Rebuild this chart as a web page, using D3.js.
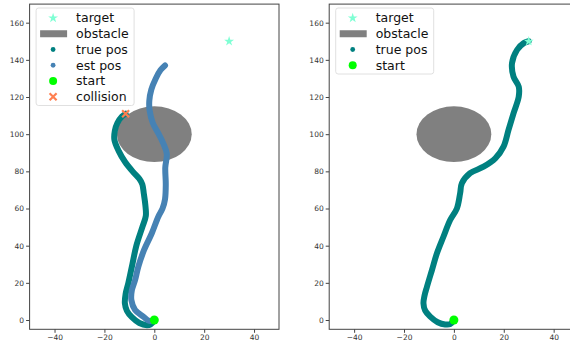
<!DOCTYPE html>
<html lang="en">
<head>
<meta charset="UTF-8">
<title>Trajectories</title>
<script src="https://cdn.jsdelivr.net/npm/d3@7"></script>
<style>
    body { margin: 0; background: #fff; }
    svg { font-family: 'DejaVu Sans', sans-serif; }
    .tick text { fill: #333; }
</style>
</head>
<body>
<div id="chart"></div>
<script>
// ---- data ----
var xTicks = [-40, -20, 0, 20, 40];
var yTicks = [0, 20, 40, 60, 80, 100, 120, 140, 160];
var target = [30, 150];
var startPos = [0, 0];
var obstacleCenter = [0, 100];
var obstacleRadius = 15;
var collision = [-11.5, 111];

// left panel: true and estimated positions
var truePosLeft = [
    [0, 0], [-1.5, -2.4], [-3, -2.8], [-6, -1.6], [-9, 1.5], [-11, 5], [-11.8, 9],
    [-11.5, 14], [-10.4, 20], [-8.8, 30], [-7.2, 40], [-4.8, 50], [-3.4, 56],
    [-3.6, 62], [-4.2, 68], [-4.8, 73], [-6, 76], [-8.4, 79.5], [-11.7, 85],
    [-14.3, 91], [-16, 97], [-15.8, 102], [-14.8, 106], [-13, 109.5], [-11.5, 111]
];
var estPosLeft = [
    [0, 0], [-2, -0.5], [-4.4, 1.8], [-7.7, 5.4], [-9.2, 10.8], [-9, 16],
    [-7.7, 21.5], [-6.4, 28.7], [-4.1, 37.7], [-1, 46.7], [1.6, 55.6], [3.3, 60],
    [4.3, 65], [4.6, 73], [4.4, 82], [5, 89.5], [3.6, 95], [1.8, 100], [-0.6, 106],
    [-1.9, 113], [-2, 118], [-1.2, 124], [0.6, 130], [2.5, 134.5], [4.3, 137]
];
// right panel: true positions
var truePosRight = [
    [0, 0], [-1.5, -2.2], [-3.5, -2.4], [-6.5, -1.2], [-9.5, 1.8], [-11.5, 5], [-12.2, 9],
    [-11.8, 13], [-10.8, 17.9], [-8.8, 26.9], [-6.8, 35.9], [-4.2, 44.8],
    [-1.5, 53.8], [1.2, 60], [2.5, 68.2], [3.2, 73.6], [6.5, 79], [11.9, 82.5],
    [16.6, 87], [19.9, 93.3], [21.9, 102.3], [23.9, 111.2], [26, 120.2],
    [26, 125.6], [23.9, 131], [23.3, 138.2], [25.3, 145.3], [28, 149], [30, 150]
];

var legendLeft = ['target', 'obstacle', 'true pos', 'est pos', 'start', 'collision'];
var legendRight = ['target', 'obstacle', 'true pos', 'start'];

// ---- colours ----
var colors = {
    'target': '#7fffd4',
    'obstacle': '#808080',
    'true pos': '#008080',
    'est pos': '#4682b4',
    'start': '#00ff00',
    'collision': '#ff7f50'
};

var svgwidth = 570;
var svgheight = 344;

var svg = d3.select('#chart')
    .append('svg')
    .attr('width', svgwidth)
    .attr('height', svgheight);

var y_scale = d3.scaleLinear()
    .domain([-5, 170])
    .range([329.3, 4.1]);

function drawPanel(left, series, legendItems, showCollision) {
    var x_scale = d3.scaleLinear()
        .domain([-50, 50])
        .range([left, left + 249.4]);

    var g = svg.append('g');

    // obstacle
    g.append('ellipse')
        .attr('cx', x_scale(obstacleCenter[0]))
        .attr('cy', y_scale(obstacleCenter[1]))
        .attr('rx', x_scale(obstacleRadius) - x_scale(0))
        .attr('ry', y_scale(0) - y_scale(obstacleRadius))
        .attr('fill', colors['obstacle']);

    // trajectories
    var line = d3.line()
        .x(d => x_scale(d[0]))
        .y(d => y_scale(d[1]))
        .curve(d3.curveCatmullRom);

    series.forEach(function(s) {
        g.append('path')
            .datum(s.data)
            .attr('d', line)
            .attr('fill', 'none')
            .attr('stroke', colors[s.name])
            .attr('stroke-width', 6)
            .attr('stroke-linecap', 'round')
            .attr('stroke-linejoin', 'round');
    });

    // start point
    g.append('circle')
        .attr('cx', x_scale(startPos[0]))
        .attr('cy', y_scale(startPos[1]))
        .attr('r', 4.5)
        .attr('fill', colors['start']);

    // target star
    g.append('path')
        .attr('d', d3.symbol().type(d3.symbolStar).size(30))
        .attr('transform', 'translate(' + x_scale(target[0]) + ',' + y_scale(target[1]) + ')')
        .attr('fill', colors['target']);

    if (showCollision) {
        var cx = x_scale(collision[0]), cy = y_scale(collision[1]);
        g.append('path')
            .attr('d', 'M' + (cx - 3.5) + ',' + (cy - 3.5) + 'L' + (cx + 3.5) + ',' + (cy + 3.5) +
                       'M' + (cx - 3.5) + ',' + (cy + 3.5) + 'L' + (cx + 3.5) + ',' + (cy - 3.5))
            .attr('stroke', colors['collision'])
            .attr('stroke-width', 2.2)
            .attr('fill', 'none');
    }

    // axes
    var x_axis = d3.axisBottom(x_scale).tickValues(xTicks).tickSize(3.5).tickPadding(2);
    var y_axis = d3.axisLeft(y_scale).tickValues(yTicks).tickSize(3.5).tickPadding(2);

    var xa = svg.append('g')
        .attr('transform', 'translate(0,' + y_scale(-5) + ')')
        .call(x_axis);
    var ya = svg.append('g')
        .attr('transform', 'translate(' + left + ',0)')
        .call(y_axis);
    [xa, ya].forEach(function(a) {
        a.select('.domain').remove();
        a.selectAll('.tick line').attr('stroke', '#444');
        a.selectAll('.tick text').style('font-size', '7.5px').style('font-family', 'DejaVu Sans');
    });

    // frame
    svg.append('rect')
        .attr('x', x_scale(-50))
        .attr('y', y_scale(170))
        .attr('width', x_scale(50) - x_scale(-50))
        .attr('height', y_scale(-5) - y_scale(170))
        .attr('fill', 'none')
        .attr('stroke', '#444')
        .attr('stroke-width', 1);

    // legend
    var lx = left + 6.5, ly = 8, rowH = 15.75;
    var lg = svg.append('g');
    lg.append('rect')
        .attr('x', lx)
        .attr('y', ly)
        .attr('rx', 2.5)
        .attr('width', 98)
        .attr('height', legendItems.length * rowH + 3)
        .attr('fill', 'white')
        .attr('fill-opacity', 0.8)
        .attr('stroke', '#d8d8d8')
        .attr('stroke-width', 0.8);

    legendItems.forEach(function(name, i) {
        var my = ly + 10 + i * rowH;
        var mx = lx + 17;
        if (name === 'target') {
            lg.append('path')
                .attr('d', d3.symbol().type(d3.symbolStar).size(30))
                .attr('transform', 'translate(' + mx + ',' + my + ')')
                .attr('fill', colors[name]);
        } else if (name === 'obstacle') {
            lg.append('rect')
                .attr('x', mx - 13)
                .attr('y', my - 3.5)
                .attr('width', 27)
                .attr('height', 7)
                .attr('fill', colors[name]);
        } else if (name === 'true pos' || name === 'est pos') {
            lg.append('circle').attr('cx', mx).attr('cy', my).attr('r', 2.4).attr('fill', colors[name]);
        } else if (name === 'start') {
            lg.append('circle').attr('cx', mx).attr('cy', my).attr('r', 4).attr('fill', colors[name]);
        } else if (name === 'collision') {
            lg.append('path')
                .attr('d', 'M' + (mx - 3.5) + ',' + (my - 3.5) + 'L' + (mx + 3.5) + ',' + (my + 3.5) +
                           'M' + (mx - 3.5) + ',' + (my + 3.5) + 'L' + (mx + 3.5) + ',' + (my - 3.5))
                .attr('stroke', colors[name])
                .attr('stroke-width', 2.2);
        }
        lg.append('text')
            .attr('x', lx + 40)
            .attr('y', my)
            .attr('dy', '0.35em')
            .style('font-size', '12.5px')
            .style('fill', '#111')
            .text(name);
    });
}

drawPanel(29.6, [
    { name: 'true pos', data: truePosLeft },
    { name: 'est pos', data: estPosLeft }
], legendLeft, true);

drawPanel(329.2, [
    { name: 'true pos', data: truePosRight }
], legendRight, false);
</script>
</body>
</html>
